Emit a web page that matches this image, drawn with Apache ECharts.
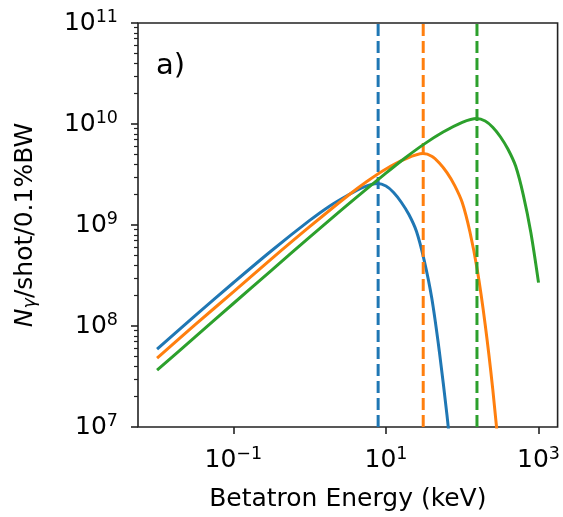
<!DOCTYPE html>
<html><head><meta charset="utf-8">
<script src="https://cdn.jsdelivr.net/npm/echarts@6/dist/echarts.min.js"></script>
<style>html,body{margin:0;padding:0;background:#fff}#c{width:563px;height:517px}</style>
</head><body><div id="c"></div>
<script>
// ---- data ----
const xBlue = [0.01, 0.0316, 0.1, 0.316, 1, 1.78, 3.16, 5.01, 7.76, 10, 12.6, 15.8, 20.0, 25.1, 31.6, 39.8, 50.1, 63.1, 70.8];
const yBlue = [5.89e7, 1.27e8, 2.68e8, 5.56e8, 1.11e9, 1.52e9, 1.97e9, 2.36e9, 2.57e9, 2.43e9, 2.10e9, 1.69e9, 1.27e9, 8.67e8, 4.51e8, 1.90e8, 5.60e7, 1.31e7, 5.69e6];
const xOrange = [0.01, 0.0316, 0.1, 0.316, 1, 3.16, 5.62, 10, 17.8, 30.5, 39.8, 50.1, 63.1, 79.4, 100, 126, 158, 200, 251, 316];
const yOrange = [4.80e7, 1.03e8, 2.18e8, 4.62e8, 9.62e8, 1.95e9, 2.70e9, 3.59e9, 4.49e9, 5.09e9, 4.80e9, 4.11e9, 3.30e9, 2.47e9, 1.67e9, 8.57e8, 3.54e8, 1.03e8, 2.38e7, 3.98e6];
const xGreen = [0.01, 0.0316, 0.1, 0.316, 1, 3.16, 10, 17.8, 31.6, 56.2, 100, 155, 200, 251, 316, 398, 501, 631, 794, 1000];
const yGreen = [3.65e7, 7.82e7, 1.67e8, 3.56e8, 7.57e8, 1.59e9, 3.26e9, 4.61e9, 6.32e9, 8.32e9, 1.04e10, 1.135e10, 1.07e10, 9.29e9, 7.48e9, 5.62e9, 3.83e9, 1.99e9, 8.38e8, 2.69e8];
const peakEnergies = [7.9, 30.8, 156];
const colors = ['#1f77b4', '#ff7f0e', '#2ca02c'];

const xTicks = [0.1, 10, 1000];
const xTickExp = ['\u22121', '1', '3'];
const yTicks = [1e7, 1e8, 1e9, 1e10, 1e11];
const yTickExp = ['7', '8', '9', '10', '11'];
const xRange = [0.005623, 1778.3];
const yRange = [1e7, 1e11];

const yMinor = [];
for (let e = 7; e < 11; e++) for (let m = 2; m <= 9; m++) yMinor.push(m * Math.pow(10, e));

const FONT = 'DejaVu Sans';
const TXT = '#000';
function expLabel(ticks, exps) {
  return function (v) {
    for (let i = 0; i < ticks.length; i++) {
      if (Math.abs(Math.log10(v) - Math.log10(ticks[i])) < 1e-6) return '{b|10}{s|' + exps[i] + '}';
    }
    return '';
  };
}
const richTick = {
  b: { fontSize: 25, fontFamily: FONT, color: TXT },
  s: { fontSize: 17.5, fontFamily: FONT, color: TXT, padding: [0, 0, 12, 0] }
};

function curve(xs, ys, color) {
  return {
    type: 'line', data: xs.map((x, i) => [x, ys[i]]), symbol: 'none', showSymbol: false,
    smooth: 0.3, clip: true, silent: true,
    lineStyle: { color: color, width: 3 }
  };
}
function vline(x, color) {
  return {
    type: 'line', data: [[x, yRange[0]], [x, yRange[1]]], symbol: 'none', showSymbol: false,
    clip: true, silent: true, lineStyle: { color: color, width: 3, type: [12, 5] }
  };
}

const chart = echarts.init(document.getElementById('c'), null, { renderer: 'canvas' });
chart.setOption({
  animation: false,
  backgroundColor: '#fff',
  grid: { left: 138, right: 5, top: 23, bottom: 89, show: true, borderColor: '#222', borderWidth: 1.6, containLabel: false },
  xAxis: {
    type: 'log', min: xRange[0], max: xRange[1],
    name: 'Betatron Energy (keV)', nameLocation: 'middle', nameGap: 60,
    nameTextStyle: { fontSize: 25, fontFamily: FONT, color: TXT },
    axisLine: { show: false },
    splitLine: { show: false },
    axisTick: { show: true, length: 7, customValues: xTicks, lineStyle: { color: '#222', width: 1.6 } },
    axisLabel: { customValues: xTicks, margin: 18, formatter: expLabel(xTicks, xTickExp), rich: richTick }
  },
  yAxis: [{
    type: 'log', min: yRange[0], max: yRange[1],
    name: '{i|N}{g|\u03b3}{n|/shot/0.1%BW}', nameLocation: 'middle', nameRotate: 90, nameGap: 99,
    nameTextStyle: {
      fontSize: 25, fontFamily: FONT, color: TXT,
      rich: {
        i: { fontSize: 25, fontFamily: FONT, fontStyle: 'italic', color: TXT },
        g: { fontSize: 17.5, fontFamily: FONT, fontStyle: 'italic', color: TXT, padding: [10, 0, 0, 0] },
        n: { fontSize: 25, fontFamily: FONT, color: TXT }
      }
    },
    axisLine: { show: false },
    splitLine: { show: false },
    axisTick: { show: true, length: 7, customValues: yTicks, lineStyle: { color: '#222', width: 1.6 } },
    axisLabel: { customValues: yTicks, margin: 20, formatter: expLabel(yTicks, yTickExp), rich: richTick }
  }, {
    type: 'log', min: yRange[0], max: yRange[1], position: 'left', offset: 0,
    axisLine: { show: false }, splitLine: { show: false },
    axisTick: { show: true, length: 4, customValues: yMinor, lineStyle: { color: '#222', width: 1.2 } },
    axisLabel: { show: false }
  }],
  series: [
    curve(xBlue, yBlue, colors[0]), vline(peakEnergies[0], colors[0]),
    curve(xOrange, yOrange, colors[1]), vline(peakEnergies[1], colors[1]),
    curve(xGreen, yGreen, colors[2]), vline(peakEnergies[2], colors[2])
  ],
  graphic: [{
    type: 'text', x: 156, y: 66.4,
    style: { text: 'a)', fontSize: 29, fontFamily: FONT, fill: TXT, verticalAlign: 'middle', align: 'left' }
  }]
});
</script></body></html>
